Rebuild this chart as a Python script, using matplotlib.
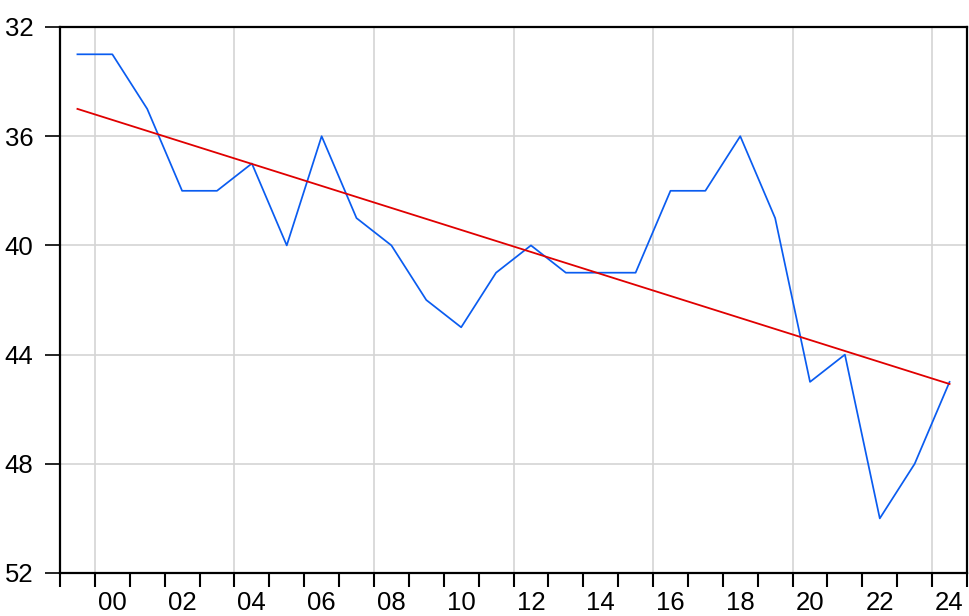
import matplotlib
matplotlib.use('Agg')
import matplotlib.pyplot as plt
import numpy as np

plt.rcParams['font.family'] = ['Liberation Sans', 'DejaVu Sans']

# annual data, 1999-2024
years = np.arange(1999, 2025)
values = [33, 33, 35, 38, 38, 37, 40, 36, 39, 40, 42, 43, 41,
          40, 41, 41, 41, 38, 38, 36, 39, 45, 44, 50, 48, 45]
y_ticks = [32, 36, 40, 44, 48, 52]
label_years = np.arange(2000, 2025, 2)
grid_years = np.arange(2000, 2025, 4)

xpos = years + 0.5   # points sit in the middle of each year
coef = np.polyfit(xpos, values, 1)
trend = np.polyval(coef, xpos)

fig = plt.figure(figsize=(9.69, 6.16), dpi=100)
ax = fig.add_axes([60/969, 1-573/616, 907/969, 546/616])

for g in grid_years:
    ax.axvline(g, color='#d4d4d4', lw=1.2, zorder=0)
for t in y_ticks[1:-1]:
    ax.axhline(t, color='#d4d4d4', lw=1.2, zorder=0)

ax.plot(xpos, values, color='#0a5cf0', lw=1.25)
ax.plot(xpos, trend, color='#e00000', lw=1.3)

ax.set_xlim(1999, 2025)
ax.set_ylim(52, 32)
ax.set_yticks(y_ticks)
ax.set_yticklabels([str(t) for t in y_ticks])

ax.set_xticks(np.arange(1999, 2026))
ax.set_xticklabels([])
ax.set_xticks(label_years + 0.5, minor=True)
ax.set_xticklabels(['%02d' % (y % 100) for y in label_years], minor=True)

ax.tick_params(axis='x', which='major', direction='out', length=10, width=1.5)
ax.tick_params(axis='x', which='minor', length=0, pad=13, labelsize=18.5)
ax.tick_params(axis='y', direction='out', length=11, width=1.2, pad=8, labelsize=18.5)

for s in ax.spines.values():
    s.set_linewidth(1.6)

fig.savefig('out.png', dpi=100)
